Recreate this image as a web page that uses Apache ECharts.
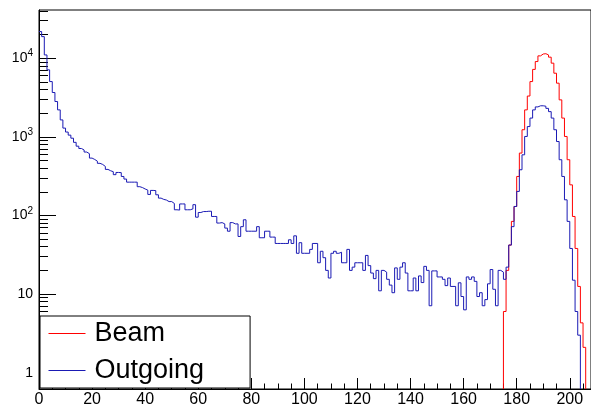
<!DOCTYPE html>
<html>
<head>
<meta charset="utf-8">
<script src="https://cdn.jsdelivr.net/npm/echarts@6/dist/echarts.min.js"></script>
<style>
  html, body { margin: 0; padding: 0; background: #fff; }
  #main { width: 591px; height: 408px; }
</style>
</head>
<body>
<div id="main"></div>
<script type="text/javascript">

    // bin contents, 1 unit wide bins
    var outgoingStart = 0;
    var outgoing = [
        21800, 18800, 11000, 7100, 5040, 3660, 2810, 2200, 1640, 1290,
        1150, 1050, 960, 850, 760, 710, 680, 640, 610, 536,
        515, 490, 460, 445, 420, 385, 370, 360, 330, 352,
        350, 313, 290, 265, 265, 265, 265, 232, 226, 217,
        210, 185, 208, 207, 183, 166, 160, 157, 150, 150,
        142, 118, 117, 140, 140, 118, 118, 121, 137, 95,
        109, 112, 112, 113, 113, 97, 97, 80, 81, 78,
        69, 63, 81, 78, 78, 54, 72, 88, 63, 63,
        63, 63, 72, 52, 52, 63, 63, 53, 53, 44,
        44, 44, 44, 44, 49, 44, 55, 33, 45, 33,
        33, 33, 37, 44, 44, 25, 35, 29, 20, 16,
        33, 35, 33, 34, 25, 25, 37, 20, 22, 25,
        25, 25, 20, 31, 23, 18.5, 15.7, 20, 11, 20,
        19, 15.4, 13, 10.4, 21.5, 15.4, 22, 25, 18.5, 11,
        11, 16, 11, 17, 14, 22.5, 20, 7.1, 19.7, 19.7,
        16.5, 16.5, 15.4, 12.8, 16, 12.5, 12.5, 7.1, 13.9, 9.3,
        6.3, 16.5, 15.4, 16.5, 14.5, 9.3, 10.4, 7.1, 8.5, 13.5,
        20.5, 11.5, 7.1, 20, 19, 15.4, 22, 42, 72, 130,
        202, 381, 590, 1010, 1350, 1730, 2200, 2400, 2480, 2480,
        2450, 2300, 2090, 1730, 1230, 871, 511, 313, 158, 84,
        38, 15, 6, 3
    ];

    var beamStart = 175;
    var beam = [
        6, 20, 42, 84, 130, 313, 621, 1230, 2200, 3300,
        5040, 7200, 9060, 10700, 11300, 11400, 11000, 10300, 8640, 6440,
        4810, 2950, 1730, 1010, 511, 245, 97, 38, 12.5, 4.3,
        2.1
    ];

    var seriesNames = ['Beam', 'Outgoing'];
    var decadeTicks = [1, 10, 100, 1000, 10000];
    var minorTicks = [0.7, 0.8, 0.9, 2, 3, 4, 5, 6, 7, 8, 9,
        20, 30, 40, 50, 60, 70, 80, 90, 200, 300, 400, 500, 600, 700, 800, 900,
        2000, 3000, 4000, 5000, 6000, 7000, 8000, 9000, 20000, 30000, 40000];

    var yMin = 0.62;
    var yMax = 41000;
    var xMax = 208;

    // histogram outline: left edges + closing edge, dropping to the floor where asked
    function histPoints(start, values, dropStart) {
        var pts = [];
        if (dropStart) pts.push([start, yMin]);
        for (var i = 0; i < values.length; i++) {
            pts.push([start + i, values[i]]);
        }
        var end = start + values.length;
        pts.push([end, values[values.length - 1]]);
        pts.push([end, yMin]);
        return pts;
    }

    var font = "'Liberation Sans', Arial, sans-serif";
    var red = '#ff0000';
    var blue = '#1a1ab4';
    var colors = [red, blue];

    var myChart = echarts.init(document.getElementById('main'), null, {renderer: 'canvas'});

    var option = {
        animation: false,
        backgroundColor: '#fff',
        color: colors,
        grid: {
            left: 39, right: 0, top: 10, bottom: 19,
            show: true, borderColor: '#000', borderWidth: 1,
            backgroundColor: 'transparent'
        },
        legend: {
            data: seriesNames.map(function (n, i) {
                return {
                    name: n,
                    itemStyle: {opacity: 0},
                    lineStyle: {color: colors[i], width: 1}
                };
            }),
            orient: 'vertical',
            left: 40, top: 316,
            padding: [4, 46, 4, 8],
            itemGap: 10,
            itemWidth: 37,
            itemHeight: 14,
            backgroundColor: '#fff',
            borderColor: '#000',
            borderWidth: 1,
            borderRadius: 0,
            textStyle: {fontFamily: font, fontSize: 27, color: '#000', padding: [0, 0, 0, 4]}
        },
        xAxis: {
            type: 'value',
            min: 0, max: xMax, interval: 20,
            axisLine: {lineStyle: {color: '#000', width: 1}},
            axisTick: {inside: true, length: 11, lineStyle: {color: '#000'}},
            minorTick: {show: true, splitNumber: 4, length: 5.5, lineStyle: {color: '#000'}},
            splitLine: {show: false},
            axisLabel: {
                showMaxLabel: false, margin: 3,
                fontFamily: font, fontSize: 16, color: '#000'
            }
        },
        yAxis: [{
            type: 'log',
            min: yMin, max: yMax,
            axisLine: {show: true, lineStyle: {color: '#000', width: 1}},
            axisTick: {inside: true, length: 17, customValues: decadeTicks, lineStyle: {color: '#000'}},
            splitLine: {show: false},
            axisLabel: {
                customValues: decadeTicks,
                margin: 6,
                fontFamily: font, fontSize: 14, color: '#000',
                formatter: function (v) {
                    var p = Math.round(Math.log10(v));
                    if (p === 0) return '1';
                    if (p === 1) return '10';
                    return '10{s|' + p + '}';
                },
                rich: {
                    s: {fontFamily: font, fontSize: 10, color: '#000', padding: [0, 0, 9, 0]}
                }
            }
        }, {
            type: 'log',
            min: yMin, max: yMax,
            position: 'left',
            axisLine: {show: false},
            axisTick: {inside: true, length: 9, customValues: minorTicks, lineStyle: {color: '#000'}},
            splitLine: {show: false},
            axisLabel: {show: false}
        }],
        series: [{
            name: 'Beam',
            type: 'line',
            step: 'end',
            symbol: 'none',
            color: red,
            itemStyle: {color: red},
            lineStyle: {color: red, width: 1},
            data: histPoints(beamStart, beam, true)
        }, {
            name: 'Outgoing',
            type: 'line',
            step: 'end',
            symbol: 'none',
            color: blue,
            itemStyle: {color: blue},
            lineStyle: {color: blue, width: 1},
            data: histPoints(outgoingStart, outgoing, false)
        }]
    };

    myChart.setOption(option);

</script>
</body>
</html>
